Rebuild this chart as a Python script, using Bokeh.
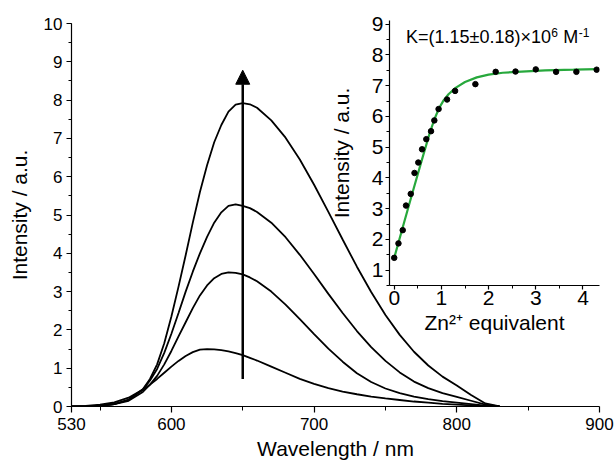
from bokeh.plotting import figure
from bokeh.models import FixedTicker, SingleIntervalTicker, Range1d, Arrow, NormalHead, Label
from bokeh.layouts import column
from bokeh.embed import file_html
from bokeh.resources import INLINE

# ---------------- data: emission spectra ----------------
wavelength = [530, 540, 550, 560, 570, 580,
              585, 590, 595, 600, 605, 610, 615, 620, 625, 630, 635, 640, 645, 650, 655,
              660, 670, 680, 690, 700, 710, 720, 730, 740, 750, 760, 770, 780, 790, 800, 810, 820, 830]
spec_1 = [0.00, 0.017, 0.046, 0.11, 0.23, 0.44,
          0.57, 0.72, 0.88, 1.04, 1.19, 1.32, 1.42, 1.485, 1.50, 1.49, 1.47, 1.44, 1.395, 1.34, 1.27,
          1.20, 1.04, 0.88, 0.72, 0.59, 0.48, 0.39, 0.32, 0.26, 0.21, 0.17, 0.13, 0.10, 0.07, 0.05, 0.03, 0.01, 0.00]
spec_2 = [0.00, 0.006, 0.02, 0.06, 0.15, 0.38,
          0.57, 0.80, 1.10, 1.45, 1.83, 2.20, 2.57, 2.90, 3.16, 3.35, 3.46, 3.50, 3.49, 3.45, 3.37,
          3.27, 3.00, 2.66, 2.28, 1.89, 1.51, 1.17, 0.87, 0.64, 0.47, 0.35, 0.26, 0.19, 0.14, 0.10, 0.06, 0.02, 0.00]
spec_3 = [0.00, 0.006, 0.02, 0.065, 0.18, 0.44,
          0.68, 0.98, 1.40, 1.90, 2.44, 3.00, 3.52, 4.00, 4.43, 4.80, 5.07, 5.24, 5.28, 5.24, 5.18,
          5.08, 4.80, 4.42, 3.96, 3.46, 2.94, 2.44, 1.97, 1.55, 1.19, 0.89, 0.65, 0.48, 0.35, 0.25, 0.15, 0.05, 0.00]
spec_4 = [0.00, 0.005, 0.02, 0.06, 0.17, 0.45,
          0.72, 1.10, 1.65, 2.35, 3.13, 3.95, 4.80, 5.60, 6.30, 6.90, 7.35, 7.70, 7.88, 7.92, 7.89,
          7.80, 7.47, 7.02, 6.45, 5.79, 5.08, 4.36, 3.65, 2.99, 2.39, 1.87, 1.43, 1.07, 0.78, 0.55, 0.30, 0.08, 0.00]

x_major_ticks = [530, 600, 700, 800, 900]
x_minor_ticks = [550, 650, 750, 850]

# ---------------- data: titration inset ----------------
zn_equiv = [0.00, 0.09, 0.18, 0.25, 0.35, 0.43, 0.51, 0.59, 0.68, 0.78, 0.85, 0.94,
            1.12, 1.29, 1.72, 2.15, 2.57, 3.00, 3.43, 3.86, 4.29]
zn_intensity = [1.40, 1.87, 2.30, 3.10, 3.48, 4.16, 4.50, 4.93, 5.26, 5.52, 5.87, 6.24,
                6.55, 6.83, 7.05, 7.45, 7.46, 7.53, 7.45, 7.45, 7.52]
fit_equiv = [0.0, 0.2, 0.4, 0.6, 0.75, 0.85, 0.95, 1.05, 1.15, 1.3, 1.5, 1.75, 2.0, 2.3,
             2.7, 3.2, 3.8, 4.3]
fit_intensity = [1.40, 2.50, 3.59, 4.66, 5.45, 5.90, 6.27, 6.53, 6.72, 6.93, 7.12, 7.27, 7.36, 7.42,
                 7.46, 7.50, 7.52, 7.54]

# K = (1.15 ± 0.18) × 10^6 M^-1, written as base text plus superscripts
k_base = "K=(1.15±0.18)×10"
k_exp = "6"
k_unit = "M"
k_unit_exp = "-1"

FONT = "Liberation Sans"


def style_axis(ax, tick_size, label_size, major_out, minor_out, label_standoff, axis_label_standoff):
    ax.axis_line_color = "black"
    ax.axis_line_width = 1.2
    ax.major_tick_line_color = "black"
    ax.minor_tick_line_color = "black"
    ax.major_tick_line_width = 1.2
    ax.minor_tick_line_width = 1
    ax.major_tick_in = 0
    ax.major_tick_out = major_out
    ax.minor_tick_in = 0
    ax.minor_tick_out = minor_out
    ax.major_label_text_font = FONT
    ax.major_label_text_font_size = tick_size
    ax.major_label_text_color = "black"
    ax.axis_label_text_font = FONT
    ax.axis_label_text_font_size = label_size
    ax.axis_label_text_font_style = "normal"
    ax.axis_label_text_color = "black"
    ax.major_label_standoff = label_standoff
    ax.axis_label_standoff = axis_label_standoff


# ---------------- main figure ----------------
p = figure(width=615, height=464, x_range=Range1d(530, 900), y_range=Range1d(0, 10),
           output_backend="svg", toolbar_location=None,
           min_border_left=71, min_border_right=16, min_border_top=23, min_border_bottom=58)
p.outline_line_color = None
p.xgrid.visible = False
p.ygrid.visible = False
p.xaxis.ticker = FixedTicker(ticks=x_major_ticks, minor_ticks=x_minor_ticks)
p.yaxis.ticker = SingleIntervalTicker(interval=1, num_minor_ticks=2)
p.xaxis.axis_label = "Wavelength / nm"
p.yaxis.axis_label = "Intensity / a.u."
style_axis(p.xaxis[0], "17px", "21px", 6, 4, 5, 4)
style_axis(p.yaxis[0], "17px", "21px", 5, 3, 4, 10)

for spec in (spec_1, spec_2, spec_3, spec_4):
    p.line(wavelength, spec, line_color="black", line_width=1.8)

p.add_layout(Arrow(end=NormalHead(size=14, fill_color="black", line_color="black"),
                   x_start=650, y_start=0.72, x_end=650, y_end=8.78,
                   line_width=2.5, line_color="black"))

# ---------------- inset figure ----------------
# borders equal to the main figure's (the column aligns frames horizontally)
q = figure(width=297, height=333, x_range=Range1d(-0.1, 4.35), y_range=Range1d(0.5, 9.12),
           output_backend="svg", toolbar_location=None,
           min_border_left=71, min_border_right=16, min_border_top=8, min_border_bottom=60,
           margin=(-452, 0, 0, 318))
q.background_fill_color = None
q.border_fill_color = None
q.outline_line_color = None
q.xgrid.visible = False
q.ygrid.visible = False
q.xaxis.ticker = SingleIntervalTicker(interval=1, num_minor_ticks=2)
q.yaxis.ticker = SingleIntervalTicker(interval=1, num_minor_ticks=2)
q.xaxis.axis_label = "Zn²⁺ equivalent"
q.yaxis.axis_label = "Intensity / a.u."
style_axis(q.xaxis[0], "21px", "21px", 4, 3, 1, 3)
style_axis(q.yaxis[0], "21px", "21px", 4, 3, 2, 16)

q.line(fit_equiv, fit_intensity, line_color="#27a83c", line_width=2.2)
q.scatter(zn_equiv, zn_intensity, size=5.5, fill_color="black", line_color="black")

q.add_layout(Label(x=0.25, y=8.25, text=k_base, text_font=FONT, text_font_size="18px",
                   text_color="black"))
q.add_layout(Label(x=3.33, y=8.58, text=k_exp, text_font=FONT, text_font_size="12px",
                   text_color="black"))
q.add_layout(Label(x=3.58, y=8.25, text=k_unit, text_font=FONT, text_font_size="18px",
                   text_color="black"))
q.add_layout(Label(x=3.91, y=8.58, text=k_unit_exp, text_font=FONT, text_font_size="12px",
                   text_color="black"))

layout = column(p, q)
open("out.html", "w").write(file_html(layout, INLINE))
